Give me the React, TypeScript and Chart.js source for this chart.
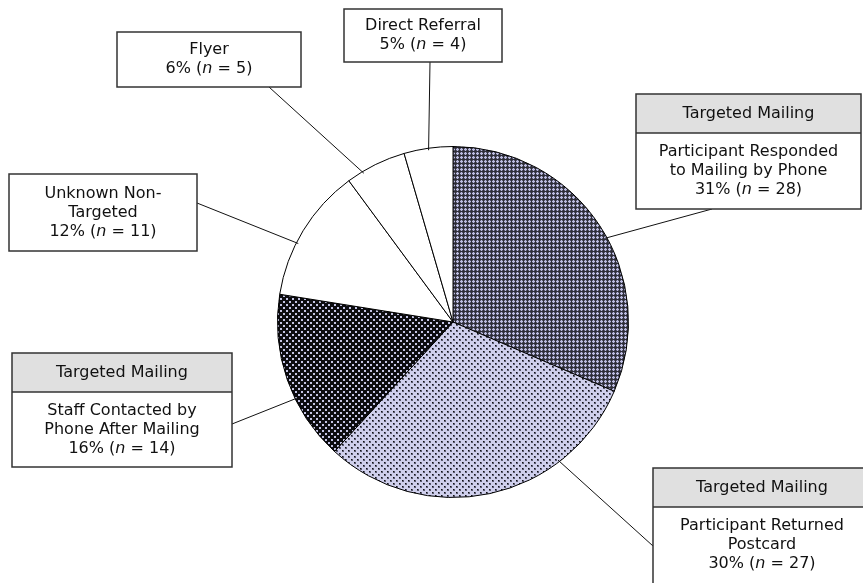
import React, { useEffect, useRef } from "react";
import { Chart, registerables } from "chart.js";

Chart.register(...registerables);

const categories = [
  "Participant Responded to Mailing by Phone",
  "Participant Returned Postcard",
  "Staff Contacted by Phone After Mailing",
  "Unknown Non-Targeted",
  "Flyer",
  "Direct Referral",
];
const counts = [28, 27, 14, 11, 5, 4];
const percents = [31, 30, 16, 12, 6, 5];
const headers = ["Targeted Mailing", "Targeted Mailing", "Targeted Mailing", "", "", ""];
const labelLines = [
  ["Participant Responded", "to Mailing by Phone"],
  ["Participant Returned", "Postcard"],
  ["Staff Contacted by", "Phone After Mailing"],
  ["Unknown Non-", "Targeted"],
  ["Flyer"],
  ["Direct Referral"],
];

// Layout of callout boxes (x, y, w, headerH, bodyH), line start fraction along arc, end point
const boxes = [
  { x: 636, y: 94, w: 225, hh: 39, bh: 76, frac: 0.54, ex: 712, ey: 209 },
  { x: 653, y: 468, w: 218, hh: 39, bh: 118, frac: 0.27, ex: 653, ey: 546 },
  { x: 12, y: 353, w: 220, hh: 39, bh: 75, frac: 0.38, ex: 232, ey: 424 },
  { x: 9, y: 174, w: 188, hh: 0, bh: 77, frac: 0.4, ex: 197, ey: 203 },
  { x: 117, y: 32, w: 184, hh: 0, bh: 55, frac: 0.27, ex: 269, ey: 87 },
  { x: 344, y: 9, w: 158, hh: 0, bh: 53, frac: 0.5, ex: 430, ey: 62 },
];

function makePattern(kind: number): CanvasPattern | string {
  const c = document.createElement("canvas");
  const g = c.getContext("2d")!;
  if (kind === 0) {
    c.width = 4; c.height = 4;
    g.fillStyle = "#2e2e38"; g.fillRect(0, 0, 4, 4);
    g.fillStyle = "#55556a";
    g.fillRect(0, 0, 3, 3);
    g.fillStyle = "#bcbce0";
    g.fillRect(1, 0, 1, 3);
    g.fillRect(0, 1, 3, 1);
  } else if (kind === 1) {
    c.width = 6; c.height = 6;
    g.fillStyle = "#cfcfec"; g.fillRect(0, 0, 6, 6);
    g.fillStyle = "#5a5a70";
    g.fillRect(0, 0, 2, 2); g.fillRect(3, 3, 2, 2);
    g.fillStyle = "#111";
    g.fillRect(0, 0, 1, 1); g.fillRect(3, 3, 1, 1);
  } else {
    c.width = 6; c.height = 6;
    g.fillStyle = "#0c0c10"; g.fillRect(0, 0, 6, 6);
    g.fillStyle = "#c4c4e4";
    g.fillRect(1, 1, 2, 2); g.fillRect(4, 4, 2, 2);
  }
  return g.createPattern(c, "repeat")!;
}

const FONT = '"DejaVu Sans", sans-serif';
const SIZE = 16;

function drawRich(ctx: CanvasRenderingContext2D, parts: { t: string; i?: boolean }[], cx: number, cy: number) {
  const fonts = parts.map((p) => `${p.i ? "italic " : ""}${SIZE}px ${FONT}`);
  let total = 0;
  const widths = parts.map((p, k) => {
    ctx.font = fonts[k];
    const w = ctx.measureText(p.t).width;
    total += w;
    return w;
  });
  let x = cx - total / 2;
  ctx.textAlign = "left";
  ctx.textBaseline = "middle";
  parts.forEach((p, k) => {
    ctx.font = fonts[k];
    ctx.fillText(p.t, x, cy);
    x += widths[k];
  });
}

const calloutPlugin = {
  id: "callouts",
  afterDraw(chart: any) {
    const ctx: CanvasRenderingContext2D = chart.ctx;
    const meta = chart.getDatasetMeta(0);
    ctx.save();
    ctx.strokeStyle = "#111";
    ctx.lineWidth = 1;
    meta.data.forEach((arc: any, i: number) => {
      const b = boxes[i];
      const { x, y, startAngle, endAngle, outerRadius } = arc.getProps(["x", "y", "startAngle", "endAngle", "outerRadius"], true);
      const a = startAngle + (endAngle - startAngle) * b.frac;
      const sx = x + Math.cos(a) * (outerRadius - 2);
      const sy = y + Math.sin(a) * (outerRadius - 2);
      ctx.beginPath();
      ctx.moveTo(sx, sy);
      ctx.lineTo(b.ex, b.ey);
      ctx.stroke();
    });
    boxes.forEach((b, i) => {
      const total = b.hh + b.bh;
      ctx.fillStyle = "#ffffff";
      ctx.fillRect(b.x, b.y, b.w, total);
      if (b.hh > 0) {
        ctx.fillStyle = "#e0e0e0";
        ctx.fillRect(b.x, b.y, b.w, b.hh);
      }
      ctx.strokeStyle = "#333";
      ctx.lineWidth = 1.5;
      ctx.strokeRect(b.x, b.y, b.w, total);
      if (b.hh > 0) {
        ctx.beginPath();
        ctx.moveTo(b.x, b.y + b.hh);
        ctx.lineTo(b.x + b.w, b.y + b.hh);
        ctx.stroke();
      }
      ctx.fillStyle = "#111";
      const cx = b.x + b.w / 2;
      if (b.hh > 0) {
        drawRich(ctx, [{ t: headers[i] }], cx, b.y + b.hh / 2);
      }
      const lines = labelLines[i];
      const n = lines.length + 1;
      const lh = 19;
      const bodyTop = b.y + b.hh;
      const firstY = b.hh > 0 ? bodyTop + 19 : bodyTop + (b.bh - (n - 1) * lh) / 2;
      lines.forEach((ln, k) => drawRich(ctx, [{ t: ln }], cx, firstY + k * lh));
      drawRich(
        ctx,
        [{ t: `${percents[i]}% (` }, { t: "n", i: true }, { t: ` = ${counts[i]})` }],
        cx,
        firstY + lines.length * lh
      );
    });
    ctx.restore();
  },
};

export default function App() {
  const ref = useRef<HTMLCanvasElement>(null);
  useEffect(() => {
    document.body.style.margin = "0";
    const patterns = [makePattern(0), makePattern(1), makePattern(2), "#ffffff", "#ffffff", "#ffffff"];
    const chart = new Chart(ref.current!, {
      type: "pie",
      data: {
        labels: categories,
        datasets: [
          {
            data: counts,
            backgroundColor: patterns as any,
            borderColor: "#000",
            borderWidth: 1,
          },
        ],
      },
      options: {
        animation: false,
        responsive: false,
        devicePixelRatio: 1,
        layout: { padding: { top: 146, bottom: 85, left: 103, right: 60 } },
        plugins: { legend: { display: false }, tooltip: { enabled: false } },
      },
      plugins: [calloutPlugin],
    });
    return () => chart.destroy();
  }, []);
  return (
    <div style={{ position: "fixed", left: 0, top: 0, width: 863, height: 583, background: "#fff" }}>
      <canvas ref={ref} width={863} height={583} style={{ width: 863, height: 583 }} />
    </div>
  );
}
